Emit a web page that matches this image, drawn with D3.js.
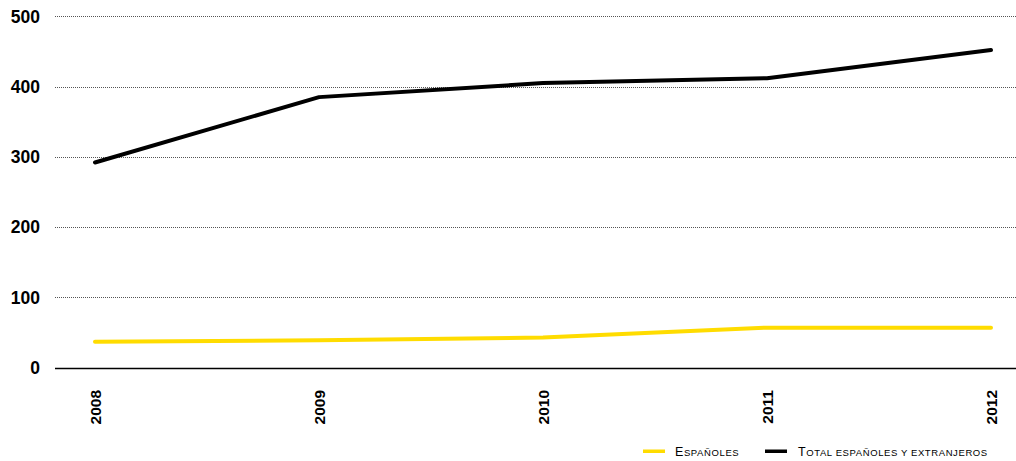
<!DOCTYPE html>
<html>
<head>
<meta charset="utf-8">
<script src="https://cdn.jsdelivr.net/npm/d3@7"></script>
<style>
  html, body { margin: 0; padding: 0; background: #fff; }
  svg { display: block; font-family: "Liberation Sans", Arial, Helvetica, sans-serif; }
</style>
</head>
<body>
<svg id="chart" width="1016" height="461"></svg>
<script>
// Years on the horizontal axis
const years = ["2008", "2009", "2010", "2011", "2012"];
// Series values
const espanoles = [37, 39, 43, 57, 57];
const totalEspExt = [292, 385, 405, 412, 452];
// Vertical ticks
const yTicks = [0, 100, 200, 300, 400, 500];
// Legend entries
const seriesNames = ["Españoles", "Total españoles y extranjeros"];
const seriesColors = ["#ffdc00", "#000000"];

const svg = d3.select("#chart");

const x = d3.scalePoint().domain(years).range([95, 991]);
const y = d3.scaleLinear().domain([0, 500]).range([367.7, 16.3]);

const gridLeft = 55, gridRight = 1016;

// Dotted horizontal gridlines
svg.append("g")
  .selectAll("line")
  .data(yTicks.filter(d => d !== 0))
  .join("line")
  .attr("x1", gridLeft).attr("x2", gridRight)
  .attr("y1", d => Math.round(y(d)) + 0.5).attr("y2", d => Math.round(y(d)) + 0.5)
  .attr("stroke", "#555")
  .attr("stroke-width", 1)
  .attr("stroke-dasharray", "1,1");

// Baseline
svg.append("line")
  .attr("x1", gridLeft).attr("x2", gridRight)
  .attr("y1", Math.round(y(0)) + 0.5).attr("y2", Math.round(y(0)) + 0.5)
  .attr("stroke", "#000")
  .attr("stroke-width", 1.3);

// Y axis labels
svg.append("g")
  .selectAll("text")
  .data(yTicks)
  .join("text")
  .attr("x", 40)
  .attr("y", d => y(d))
  .attr("dy", "0.36em")
  .attr("text-anchor", "end")
  .attr("font-size", 17.5)
  .attr("font-weight", "bold")
  .attr("fill", "#000")
  .text(d => d);

// X axis labels, rotated
svg.append("g")
  .selectAll("text")
  .data(years)
  .join("text")
  .attr("transform", d => `translate(${x(d)},390) rotate(-90)`)
  .attr("dy", "0.36em")
  .attr("text-anchor", "end")
  .attr("font-size", 15.5)
  .attr("font-weight", "bold")
  .attr("fill", "#000")
  .text(d => d);

// Lines
const line = d3.line()
  .x((d, i) => x(years[i]))
  .y(d => y(d));

[espanoles, totalEspExt].forEach((vals, i) => {
  svg.append("path")
    .datum(vals)
    .attr("d", line)
    .attr("fill", "none")
    .attr("stroke", seriesColors[i])
    .attr("stroke-width", 4)
    .attr("stroke-linecap", "round")
    .attr("stroke-linejoin", "round");
});

// Legend (small caps built from two sizes of capitals)
const legend = svg.append("g");
const legendItems = [
  { name: seriesNames[0], color: seriesColors[0], sx: 643, tx: 675 },
  { name: seriesNames[1], color: seriesColors[1], sx: 765, tx: 798 }
];
legendItems.forEach(it => {
  legend.append("rect")
    .attr("x", it.sx).attr("y", 449.5)
    .attr("width", 22).attr("height", 3.5)
    .attr("fill", it.color);
  const t = legend.append("text")
    .attr("x", it.tx).attr("y", 456)
    .attr("fill", "#000")
    .attr("letter-spacing", 0.6);
  // split into runs of capital / lower-case letters
  const runs = it.name.match(/[A-ZÑÁÉÍÓÚ]+|[^A-ZÑÁÉÍÓÚ]+/g);
  runs.forEach(r => {
    const upper = r === r.toUpperCase() && /[A-ZÑ]/.test(r);
    t.append("tspan")
      .attr("font-size", upper ? 12.5 : 9.5)
      .text(r.toUpperCase());
  });
});
</script>
</body>
</html>
